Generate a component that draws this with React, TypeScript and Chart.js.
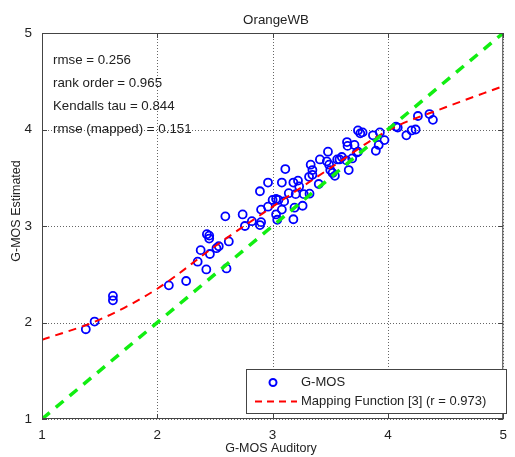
import React, { useEffect, useRef } from "react";
import { Chart, registerables } from "chart.js";

Chart.register(...registerables);

const titleText = "OrangeWB";
const xTitle = "G-MOS Auditory";
const yTitle = "G-MOS Estimated";
const statLines = ["rmse = 0.256", "rank order = 0.965", "Kendalls tau = 0.844", "rmse (mapped) = 0.151"];
const tickValues = [1, 2, 3, 4, 5];

const auditory = [
  1.38, 1.456, 1.615, 1.615, 2.1, 2.25, 2.35, 2.425, 2.456, 2.6, 2.376, 2.43, 2.45, 2.45,
  2.513, 2.533, 2.62, 2.59, 2.74, 2.76, 2.82, 2.89, 2.9, 2.89, 2.96, 2.9, 2.96, 3.0, 3.03,
  3.05, 3.03, 3.04, 3.08, 3.11, 3.08, 3.1, 3.14, 3.18, 3.19, 3.18, 3.2, 3.22, 3.23, 3.26,
  3.27, 3.32, 3.33, 3.316, 3.345, 3.345, 3.4, 3.41, 3.48, 3.47, 3.49, 3.5, 3.52, 3.54, 3.56,
  3.58, 3.6, 3.64, 3.645, 3.66, 3.65, 3.69, 3.71, 3.73, 3.74, 3.74, 3.76, 3.78, 3.87, 3.895,
  3.92, 3.93, 3.97, 4.07, 4.085, 4.16, 4.205, 4.24, 4.26, 4.36, 4.39,
];
const estimated = [
  1.93, 2.01, 2.275, 2.23, 2.385, 2.43, 2.63, 2.55, 2.71, 2.56, 2.75, 2.915, 2.9, 2.87,
  2.77, 2.79, 2.84, 3.1, 3.12, 3.0, 3.05, 3.01, 3.04, 3.36, 3.45, 3.17, 3.2, 3.27, 3.28,
  3.27, 3.12, 3.065, 3.45, 3.59, 3.17, 3.255, 3.34, 3.45, 3.19, 3.07, 3.33, 3.47, 3.41, 3.21,
  3.33, 3.335, 3.635, 3.51, 3.58, 3.53, 3.435, 3.69, 3.77, 3.67, 3.635, 3.58, 3.55, 3.52, 3.69,
  3.69, 3.715, 3.68, 3.87, 3.58, 3.83, 3.7, 3.84, 3.76, 3.77, 3.99, 3.96, 3.97, 3.94, 3.78,
  3.84, 3.97, 3.89, 4.03, 4.02, 3.94, 3.99, 4.0, 4.14, 4.16, 4.1,
];

const mapX = [1, 1.5, 2, 2.5, 3, 3.5, 4, 4.5, 5];
const mapY = [1.82, 2.03, 2.35, 2.79, 3.2, 3.6, 3.99, 4.23, 4.45];
const identX = [1, 5];
const identY = [1, 5];

const seriesLabels = ["G-MOS", "Mapping Function [3] (r = 0.973)"];

const FONT = "'Liberation Sans', Arial, sans-serif";

export default function App() {
  const ref = useRef<HTMLCanvasElement | null>(null);

  useEffect(() => {
    if (!ref.current) return;
    const gridPlugin = {
      id: "dottedGrid",
      beforeDatasetsDraw(chart: any) {
        const { ctx, chartArea } = chart;
        const xs = chart.scales.x;
        const ys = chart.scales.y;
        ctx.save();
        ctx.strokeStyle = "#666";
        ctx.lineWidth = 1;
        ctx.setLineDash([1, 2]);
        ctx.beginPath();
        tickValues.forEach((v) => {
          const px = Math.round(xs.getPixelForValue(v)) + 0.5;
          ctx.moveTo(px, chartArea.top);
          ctx.lineTo(px, chartArea.bottom);
          const py = Math.round(ys.getPixelForValue(v)) + 0.5;
          ctx.moveTo(chartArea.left, py);
          ctx.lineTo(chartArea.right, py);
        });
        ctx.stroke();
        ctx.restore();
      },
    };
    const overlay = {
      id: "overlay",
      afterDatasetsDraw(chart: any) {
        const { ctx, chartArea } = chart;
        const xs = chart.scales.x;
        const ys = chart.scales.y;
        ctx.save();
        // frame
        ctx.strokeStyle = "#444";
        ctx.lineWidth = 1;
        ctx.setLineDash([]);
        ctx.strokeRect(chartArea.left + 0.5, chartArea.top + 0.5, chartArea.right - chartArea.left - 1, chartArea.bottom - chartArea.top - 1);
        // inner tick marks
        ctx.beginPath();
        tickValues.forEach((v) => {
          const px = Math.round(xs.getPixelForValue(v)) + 0.5;
          ctx.moveTo(px, chartArea.bottom);
          ctx.lineTo(px, chartArea.bottom - 5);
          ctx.moveTo(px, chartArea.top);
          ctx.lineTo(px, chartArea.top + 5);
          const py = Math.round(ys.getPixelForValue(v)) + 0.5;
          ctx.moveTo(chartArea.left, py);
          ctx.lineTo(chartArea.left + 5, py);
          ctx.moveTo(chartArea.right, py);
          ctx.lineTo(chartArea.right - 5, py);
        });
        ctx.stroke();

        // stats text
        ctx.fillStyle = "#222";
        ctx.font = `13.3px ${FONT}`;
        ctx.textBaseline = "middle";
        ctx.textAlign = "left";
        statLines.forEach((s, i) => ctx.fillText(s, 53, 60 + i * 23));

        // legend
        const lx = 246, ly = 369, lw = 260, lh = 44;
        ctx.fillStyle = "#fff";
        ctx.fillRect(lx, ly, lw, lh);
        ctx.strokeStyle = "#444";
        ctx.strokeRect(lx + 0.5, ly + 0.5, lw, lh);
        ctx.beginPath();
        ctx.strokeStyle = "#0000ff";
        ctx.lineWidth = 2;
        ctx.arc(273, 382.5, 3.5, 0, Math.PI * 2);
        ctx.stroke();
        ctx.beginPath();
        ctx.strokeStyle = "#ff0000";
        ctx.setLineDash([7, 5]);
        ctx.moveTo(255, 401.5);
        ctx.lineTo(297, 401.5);
        ctx.stroke();
        ctx.setLineDash([]);
        ctx.fillStyle = "#222";
        ctx.font = `13px ${FONT}`;
        ctx.fillText(chart.data.datasets[0].label, 301, 382.5);
        ctx.fillText(chart.data.datasets[1].label, 301, 401.5);

        // titles
        ctx.textAlign = "center";
        ctx.font = `13.3px ${FONT}`;
        ctx.fillText(titleText, 276, 20);
        ctx.font = `12.5px ${FONT}`;
        ctx.fillText(xTitle, 271, 449);
        ctx.translate(17, 211);
        ctx.rotate(-Math.PI / 2);
        ctx.fillText(yTitle, 0, 0);
        ctx.restore();
      },
    };

    const chart = new Chart(ref.current, {
      type: "scatter",
      data: {
        datasets: [
          {
            label: seriesLabels[0],
            data: auditory.map((x, i) => ({ x, y: estimated[i] })),
            pointStyle: "circle",
            pointRadius: 4,
            pointBorderWidth: 1.8,
            borderColor: "#0000ff",
            backgroundColor: "rgba(0,0,0,0)",
            showLine: false,
            order: 3,
          },
          {
            label: seriesLabels[1],
            data: mapX.map((x, i) => ({ x, y: mapY[i] })),
            showLine: true,
            borderColor: "#ff0000",
            borderWidth: 2,
            borderDash: [8, 6],
            pointRadius: 0,
            cubicInterpolationMode: "monotone",
            order: 2,
          },
          {
            label: "identity",
            data: identX.map((x, i) => ({ x, y: identY[i] })),
            showLine: true,
            borderColor: "#11ee11",
            borderWidth: 3.5,
            borderDash: [10, 8],
            pointRadius: 0,
            order: 1,
          },
        ],
      },
      options: {
        animation: false,
        responsive: false,
        maintainAspectRatio: false,
        layout: { padding: { left: 0, top: 33, right: 5, bottom: 0 } },
        plugins: { legend: { display: false }, tooltip: { enabled: false }, title: { display: false } },
        scales: {
          x: {
            type: "linear",
            min: 1,
            max: 5,
            afterFit: (s: any) => { s.height = 38; },
            afterBuildTicks: (s: any) => { s.ticks = tickValues.map((v) => ({ value: v })); },
            ticks: { font: { family: FONT, size: 13.5 }, color: "#222", padding: 8 },
            grid: { display: false, drawTicks: false },
            border: { display: false },
          },
          y: {
            type: "linear",
            min: 1,
            max: 5,
            afterFit: (s: any) => { s.width = 42; },
            afterBuildTicks: (s: any) => { s.ticks = tickValues.map((v) => ({ value: v })); },
            ticks: { font: { family: FONT, size: 13.5 }, color: "#222", padding: 10 },
            grid: { display: false, drawTicks: false },
            border: { display: false },
          },
        },
      },
      plugins: [gridPlugin, overlay],
    } as any);
    return () => chart.destroy();
  }, []);

  return (
    <div style={{ position: "absolute", left: 0, top: 0, width: 515, height: 457, background: "#fff" }}>
      <canvas ref={ref} width={515} height={457} style={{ width: 515, height: 457 }} />
    </div>
  );
}
